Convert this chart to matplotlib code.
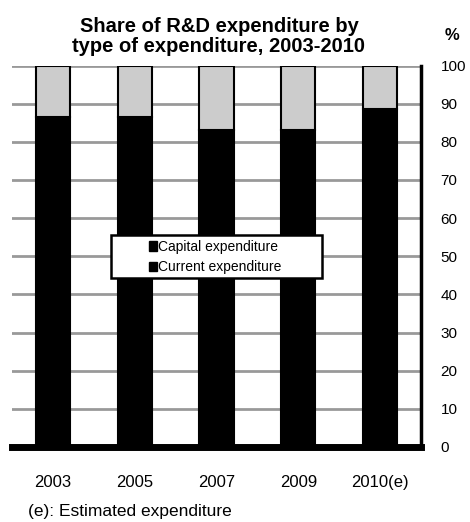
import matplotlib
matplotlib.use("Agg")
import matplotlib.pyplot as plt
from matplotlib.patches import Patch, Rectangle
import numpy as np

plt.rcParams['font.family'] = ['Liberation Sans', 'DejaVu Sans']

years = ["2003", "2005", "2007", "2009", "2010(e)"]
current = [86.5, 86.5, 83.2, 83.0, 88.5]
capital = [100 - c for c in current]
yticks = [0, 10, 20, 30, 40, 50, 60, 70, 80, 90, 100]

W, H = 470, 522
fig = plt.figure(figsize=(W/100, H/100), dpi=100)
ax_l, ax_r, ax_b, ax_t = 12, 421, 447, 65.5
ax = fig.add_axes([ax_l/W, 1 - ax_b/H, (ax_r - ax_l)/W, (ax_b - ax_t)/H])

x = np.arange(len(years))
w = 0.42
ax.bar(x, current, width=w, color="black", edgecolor="black", linewidth=1.5, zorder=3)
ax.bar(x, capital, bottom=current, width=w, color="#cccccc", edgecolor="black", linewidth=1.5, zorder=3)

ax.set_xlim(-0.5, len(years) - 0.5)
ax.set_ylim(0, 100)
ax.set_yticks(yticks)
ax.yaxis.tick_right()
ax.tick_params(axis='y', length=0, pad=14, labelsize=11)
ax.set_xticks(x)
ax.set_xticklabels(years)
ax.tick_params(axis='x', length=0, pad=20, labelsize=12)
ax.grid(axis='y', color="#999999", linewidth=2, zorder=0)
ax.set_axisbelow(True)
for s in ["top", "left"]:
    ax.spines[s].set_visible(False)
ax.spines["right"].set_linewidth(2.5)
ax.spines["right"].set_zorder(4)
ax.spines["bottom"].set_linewidth(5)
ax.spines["bottom"].set_zorder(4)

# legend box (drawn as figure-pixel rectangle)
lx0, lx1, ly0, ly1 = 111, 322, 235, 278
box = Rectangle((lx0/W, 1 - ly1/H), (lx1 - lx0)/W, (ly1 - ly0)/H, transform=fig.transFigure,
                facecolor="white", edgecolor="black", linewidth=1.8, zorder=5)
fig.add_artist(box)

handles = [Patch(facecolor="black", edgecolor="black", label="Capital expenditure"),
           Patch(facecolor="black", edgecolor="black", label="Current expenditure")]
leg = fig.legend(handles=handles, loc="center left", bbox_to_anchor=(149/W, 1 - 257/H),
                 fontsize=10, frameon=False, handlelength=0.55, handleheight=0.65,
                 handletextpad=0.1, borderpad=0, labelspacing=0.45, borderaxespad=0)
leg.set_zorder(6)

fig.text(219/W, 1 - 52/H, "Share of R&D expenditure by\ntype of expenditure, 2003-2010",
         ha="center", va="baseline", fontsize=14.5, fontweight="bold", linespacing=1.05)
fig.text(452/W, 1 - 40/H, "%", ha="center", va="baseline", fontsize=12, fontweight="bold")
fig.text(28/W, 1 - 516/H, "(e): Estimated expenditure", ha="left", va="baseline", fontsize=12.5)

fig.savefig("out.png", dpi=100)
